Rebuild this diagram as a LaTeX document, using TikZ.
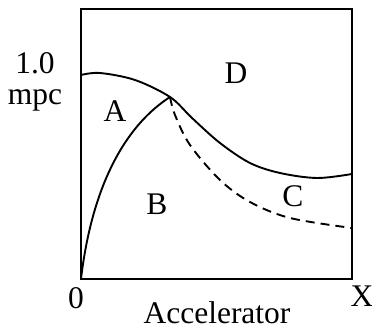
\documentclass[tikz,border=0pt]{standalone}
\usepackage{fontspec}
\setmainfont{Liberation Serif}
\usepackage{tikz}
\usetikzlibrary{calc, positioning}

\begin{document}
\begin{tikzpicture}[x=1pt, y=1pt, font=\fontsize{31.5}{36}\selectfont,
		curve/.style={line width=1.9pt},
		lbl/.style={inner sep=0pt}]
		\useasboundingbox (0,0) rectangle (372,331);
		% frame
		\draw[line width=2.6pt] (81,322) -- (81,52) -- (352,52) -- (352,322) -- cycle;
		% curves
		\coordinate (P) at (170,234);
		\draw[curve] plot[smooth, tension=0.55] coordinates {(81,256) (100,258) (135,251) (P) (192,213) (220,188) (250,168) (280,158) (317,153) (352,157)};
		\draw[curve] (81,52) .. controls (92,145) and (125,205) .. (P);
		\draw[curve, dash pattern=on 9pt off 6pt] plot[smooth, tension=0.55] coordinates {(P) (175,216) (190,186) (220,151) (250,129) (290,113) (352,103)};
		% labels
		\node[lbl] (one) at (35,268) {1.0};
		\node[lbl] (mpc) at (35,231) {mpc};
		\node[lbl] (A) at (115,220) {A};
		\node[lbl] (D) at (236,258) {D};
		\node[lbl] (B) at (157,127) {B};
		\node[lbl] (C) at (293,135) {C};
		\node[lbl] (zero) at (76,33) {0};
		\node[lbl] (X) at (362,35) {X};
		\node[lbl, anchor=base] (acc) at (217,7) {Accelerator};
	\end{tikzpicture}
\end{document}
